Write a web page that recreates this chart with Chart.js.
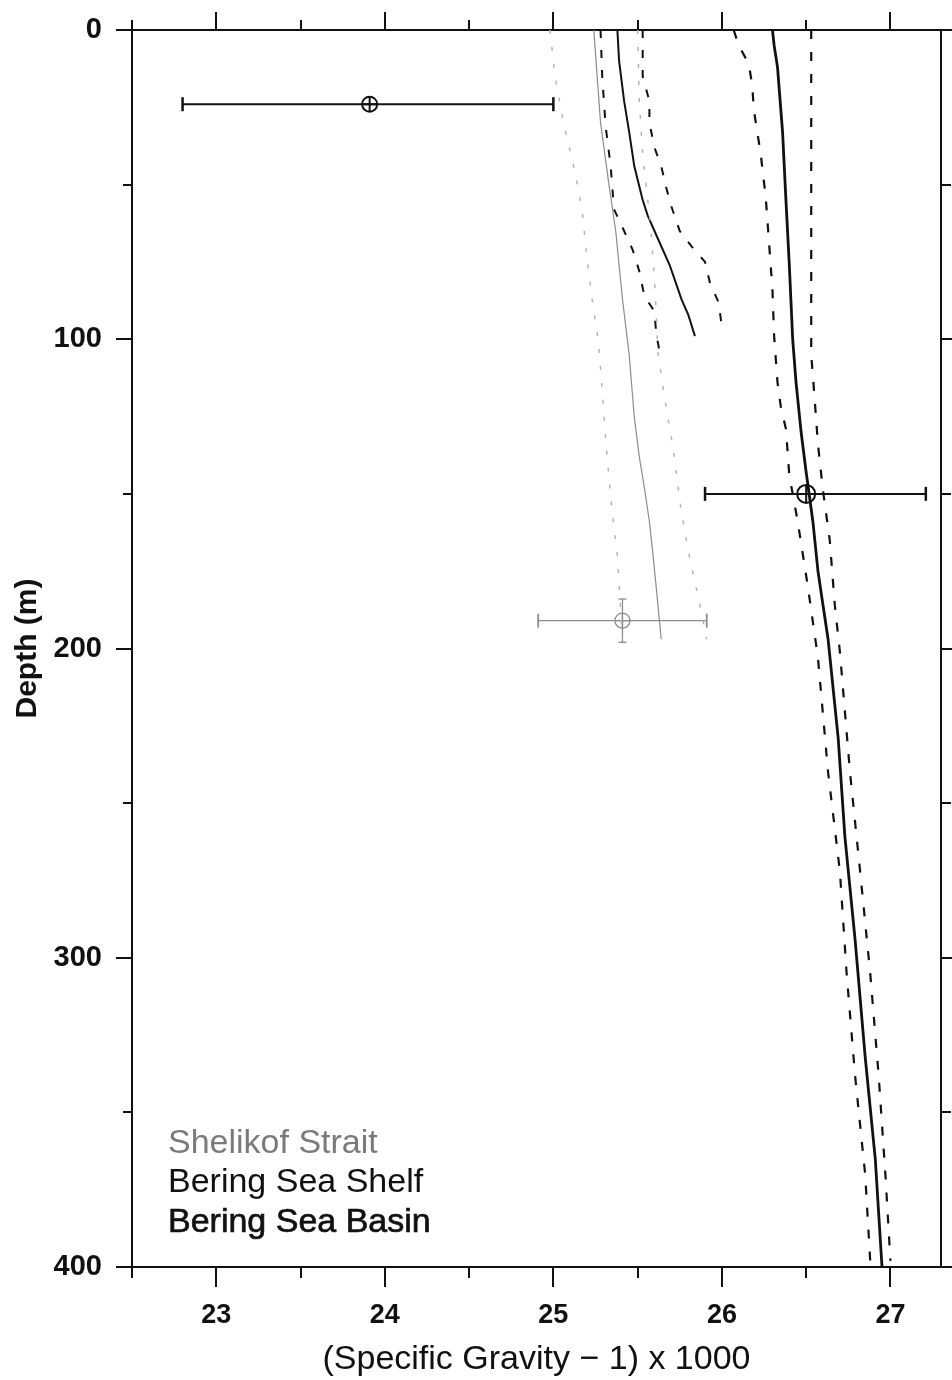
<!DOCTYPE html>
<html>
<head>
<meta charset="utf-8">
<title>Density profiles</title>
<script src="https://cdn.jsdelivr.net/npm/chart.js@4.4.1/dist/chart.umd.min.js"></script>
<style>
  html, body { margin: 0; padding: 0; background: #fff; }
  #wrap { width: 952px; height: 1380px; position: relative; }
</style>
</head>
<body>
<div id="wrap"><canvas id="profile"></canvas></div>
<script>
// axis ticks
const gravityTicks = [23, 24, 25, 26, 27];
const depthTicks = [0, 100, 200, 300, 400];

// Shelikof Strait: mean and +/- envelope
const shelikofMeanDepth = [0, 15, 30, 50, 65, 87, 105, 125, 138, 148, 159, 169, 180, 197];
const shelikofMean = [25.24, 25.26, 25.28, 25.33, 25.37, 25.41, 25.45, 25.48, 25.51, 25.54, 25.57, 25.59, 25.61, 25.64];
const shelikofLowDepth = [0, 15, 30, 44, 52, 58, 74, 87, 102, 132, 145, 156, 170, 197];
const shelikofLow = [24.98, 25.01, 25.06, 25.12, 25.15, 25.17, 25.20, 25.23, 25.27, 25.31, 25.33, 25.35, 25.38, 25.41];
const shelikofHighDepth = [0, 23, 40, 65, 81, 91, 104, 119, 135, 156, 171, 186, 197];
const shelikofHigh = [25.50, 25.51, 25.53, 25.58, 25.60, 25.61, 25.62, 25.66, 25.71, 25.76, 25.81, 25.87, 25.91];

// Bering Sea Shelf
const shelfMeanDepth = [0, 10, 23, 33, 44, 55, 60, 65, 76, 87, 92, 99];
const shelfMean = [25.38, 25.39, 25.42, 25.45, 25.48, 25.53, 25.56, 25.60, 25.69, 25.76, 25.80, 25.84];
const shelfLowDepth = [0, 15, 31, 44, 58, 65, 71, 78, 86, 91, 98, 104];
const shelfLow = [25.28, 25.29, 25.31, 25.34, 25.36, 25.42, 25.47, 25.51, 25.54, 25.60, 25.61, 25.63];
const shelfHighDepth = [0, 15, 23, 30, 38, 44, 51, 57, 65, 70, 75, 82, 88, 96];
const shelfHigh = [25.53, 25.53, 25.57, 25.57, 25.60, 25.64, 25.67, 25.70, 25.75, 25.82, 25.90, 25.93, 25.98, 26.00];

// Bering Sea Basin
const basinMeanDepth = [0, 5, 12, 33, 55, 76, 100, 114, 130, 143, 159, 175, 186, 197, 229, 261, 294, 332, 365, 400];
const basinMean = [26.30, 26.31, 26.33, 26.36, 26.38, 26.40, 26.42, 26.44, 26.47, 26.50, 26.54, 26.57, 26.60, 26.63, 26.69, 26.73, 26.79, 26.85, 26.91, 26.95];
const basinLowDepth = [0, 5, 11, 18, 26, 40, 54, 69, 84, 99, 114, 122, 129, 144, 159, 180, 203, 240, 272, 305, 338, 370, 398];
const basinLow = [26.07, 26.10, 26.16, 26.18, 26.19, 26.23, 26.26, 26.28, 26.30, 26.31, 26.33, 26.35, 26.38, 26.40, 26.45, 26.51, 26.57, 26.63, 26.70, 26.74, 26.79, 26.85, 26.88];
const basinHighDepth = [0, 50, 105, 119, 134, 149, 165, 186, 201, 240, 272, 305, 338, 370, 398];
const basinHigh = [26.53, 26.53, 26.53, 26.55, 26.57, 26.60, 26.64, 26.67, 26.70, 26.76, 26.82, 26.88, 26.93, 26.97, 27.00];

// single observations with error bars (Shelikof, Shelf, Basin)
const obsGravity = [25.41, 23.91, 26.50];
const obsDepth = [191, 24, 150];
const obsGravityLow = [24.91, 22.80, 25.90];
const obsGravityHigh = [25.91, 25.00, 27.21];
const obsDepthLow = [184, null, null];
const obsDepthHigh = [198, null, null];

const regionNames = ['Shelikof Strait', 'Bering Sea Shelf', 'Bering Sea Basin'];

const FONT = '"Liberation Sans", Arial, Helvetica, sans-serif';
Chart.defaults.font.family = FONT;
Chart.defaults.color = '#111';

const styles = [
  { mean: '#8c8c8c', meanWidth: 1.2, band: '#b4b4b4', bandWidth: 1.5, dash: [4, 13], text: '#7a7a7a' },
  { mean: '#111', meanWidth: 2, band: '#111', bandWidth: 2, dash: [8, 12], text: '#111' },
  { mean: '#111', meanWidth: 2.8, band: '#111', bandWidth: 2.2, dash: [9, 13], text: '#111' }
];

function zip(xs, ds) {
  return xs.map((v, i) => ({ x: v, y: ds[i] }));
}

function profile(xs, ds, color, width, dash, label) {
  return {
    label: label || '',
    data: zip(xs, ds),
    showLine: true,
    borderColor: color,
    borderWidth: width,
    borderDash: dash || [],
    pointRadius: 0,
    tension: 0,
    fill: false
  };
}

const profiles = [
  [shelikofMean, shelikofMeanDepth, shelikofLow, shelikofLowDepth, shelikofHigh, shelikofHighDepth],
  [shelfMean, shelfMeanDepth, shelfLow, shelfLowDepth, shelfHigh, shelfHighDepth],
  [basinMean, basinMeanDepth, basinLow, basinLowDepth, basinHigh, basinHighDepth]
];

const datasets = [];
profiles.forEach((p, i) => {
  const s = styles[i];
  const mean = profile(p[0], p[1], s.mean, s.meanWidth, null, regionNames[i]);
  mean.legendRow = i;
  datasets.push(mean);
  datasets.push(profile(p[2], p[3], s.band, s.bandWidth, s.dash));
  datasets.push(profile(p[4], p[5], s.band, s.bandWidth, s.dash));
});

// error bars: horizontal bar with end caps, circle-plus marker at the centre
obsGravity.forEach((g, i) => {
  const c = i === 0 ? '#8c8c8c' : '#111';
  const w = i === 0 ? 1.3 : 2;
  datasets.push({
    data: [{ x: obsGravityLow[i], y: obsDepth[i] }, { x: obsGravityHigh[i], y: obsDepth[i] }],
    showLine: true, borderColor: c, borderWidth: w,
    pointStyle: 'line', rotation: 90, pointRadius: 7,
    pointBorderColor: c, pointBorderWidth: w + 0.5
  });
  if (obsDepthLow[i] !== null) {
    datasets.push({
      data: [{ x: g, y: obsDepthLow[i] }, { x: g, y: obsDepthHigh[i] }],
      showLine: true, borderColor: c, borderWidth: w,
      pointStyle: 'line', rotation: 0, pointRadius: 4,
      pointBorderColor: c, pointBorderWidth: w
    });
  }
  const r = i === 2 ? 9 : 7.5;
  datasets.push({
    data: [{ x: g, y: obsDepth[i] }],
    pointStyle: 'circle', pointRadius: r,
    pointBackgroundColor: 'rgba(0,0,0,0)', pointBorderColor: c, pointBorderWidth: w
  });
  datasets.push({
    data: [{ x: g, y: obsDepth[i] }],
    pointStyle: 'cross', pointRadius: r,
    pointBorderColor: c, pointBorderWidth: w
  });
});

// outward tick marks on all four sides, majors longer than minors
const frameTicks = {
  id: 'frameTicks',
  afterDraw(chart) {
    const { ctx, chartArea: a, scales } = chart;
    const sx = scales.x, sy = scales.y;
    ctx.save();
    ctx.strokeStyle = '#111';
    ctx.lineWidth = 2;
    const seg = (x1, y1, x2, y2) => { ctx.beginPath(); ctx.moveTo(x1, y1); ctx.lineTo(x2, y2); ctx.stroke(); };
    const xs = [];
    gravityTicks.forEach(v => { xs.push([v, true]); xs.push([v - 0.5, false]); });
    xs.forEach(([v, major]) => {
      const px = Math.round(sx.getPixelForValue(v));
      seg(px, a.bottom, px, a.bottom + (major ? 20 : 11));
      seg(px, a.top, px, a.top - (major ? 18 : 10));
    });
    const ys = [];
    depthTicks.forEach(d => { ys.push([d, true]); if (d > 0) ys.push([d - 50, false]); });
    ys.forEach(([d, major]) => {
      const py = Math.round(sy.getPixelForValue(d));
      seg(a.left, py, a.left - (major ? 16 : 9), py);
      seg(a.right, py, a.right + (major ? 14 : 10), py);
    });
    ctx.restore();
  }
};

// region names written inside the plot, lower left
const regionLabels = {
  id: 'regionLabels',
  afterDatasetsDraw(chart) {
    const { ctx, chartArea: a } = chart;
    const offsets = [114, 75, 35];
    ctx.save();
    ctx.font = '34px ' + FONT;
    ctx.textBaseline = 'alphabetic';
    chart.data.datasets.forEach(ds => {
      if (ds.legendRow === undefined) return;
      const i = ds.legendRow;
      ctx.fillStyle = styles[i].text;
      ctx.fillText(ds.label, a.left + 36, a.bottom - offsets[i]);
      if (i === 2) {
        ctx.strokeStyle = styles[i].text;
        ctx.lineWidth = 0.7;
        ctx.strokeText(ds.label, a.left + 36, a.bottom - offsets[i]);
      }
    });
    ctx.restore();
  }
};

const xRange = { min: 22.5, max: 27.3 };
const yRange = { min: 0, max: 400 };
const frameBorder = { display: true, color: '#111', width: 2 };

// fixed axis band sizes; label overhang must not push the plot area in
function fixSize(w, h) {
  return s => {
    if (w !== null) s.width = w;
    if (h !== null) s.height = h;
    s.paddingTop = 0; s.paddingBottom = 0; s.paddingLeft = 0; s.paddingRight = 0;
  };
}

new Chart(document.getElementById('profile'), {
  type: 'scatter',
  data: { datasets },
  options: {
    responsive: true,
    maintainAspectRatio: false,
    animation: false,
    layout: { padding: 0 },
    plugins: { legend: { display: false }, tooltip: { enabled: false } },
    scales: {
      x: {
        type: 'linear', position: 'bottom', ...xRange,
        afterBuildTicks: s => { s.ticks = gravityTicks.map(v => ({ value: v })); },
        afterFit: fixSize(null, 113),
        grid: { display: false, drawTicks: false },
        border: frameBorder,
        ticks: { color: '#111', font: { size: 27, weight: 'bold' }, padding: 32, maxRotation: 0 },
        title: {
          display: true, text: '(Specific Gravity \u2212 1) x 1000', color: '#111',
          font: { size: 34 }, padding: { top: 0, bottom: 0 }
        }
      },
      x2: {
        type: 'linear', position: 'top', ...xRange,
        afterFit: fixSize(null, 30),
        grid: { display: false, drawTicks: false },
        border: frameBorder,
        ticks: { display: false }
      },
      y: {
        type: 'linear', position: 'left', reverse: true, ...yRange,
        afterBuildTicks: s => { s.ticks = depthTicks.map(v => ({ value: v })); },
        afterFit: fixSize(132, null),
        grid: { display: false, drawTicks: false },
        border: frameBorder,
        ticks: { color: '#111', font: { size: 29, weight: 'bold' }, padding: 30 },
        title: {
          display: true, text: 'Depth (m)', color: '#111',
          font: { size: 30, weight: 'bold' }, padding: { top: 10, bottom: 0 }
        }
      },
      y2: {
        type: 'linear', position: 'right', reverse: true, ...yRange,
        afterFit: fixSize(10, null),
        grid: { display: false, drawTicks: false },
        border: frameBorder,
        ticks: { display: false }
      }
    }
  },
  plugins: [frameTicks, regionLabels]
});
</script>
</body>
</html>
